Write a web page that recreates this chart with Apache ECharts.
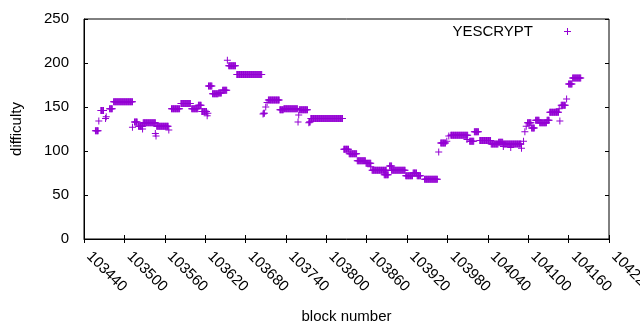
<!DOCTYPE html>
<html>
<head>
<meta charset="utf-8">
<script src="https://cdn.jsdelivr.net/npm/echarts@6/dist/echarts.min.js"></script>
<style>
  html, body { margin: 0; padding: 0; background: #fff; }
  #chart { width: 640px; height: 330px; }
</style>
</head>
<body>
<div id="chart"></div>
<script>
// difficulty runs: first block, last block, difficulty
const runStart = [103457, 103462, 103465, 103472, 103473, 103478, 103484, 103512, 103515, 103521,
  103527, 103528, 103546, 103547, 103548, 103566, 103570, 103584, 103600, 103610,
  103615, 103623, 103624, 103625, 103631, 103640, 103646, 103653, 103655, 103667,
  103706, 103707, 103710, 103712, 103714, 103731, 103737, 103758, 103759, 103760,
  103774, 103775, 103777, 103826, 103834, 103846, 103859, 103866, 103868, 103886,
  103894, 103897, 103918, 103929, 103935, 103946, 103967, 103970, 103979, 103982,
  103985, 104009, 104013, 104020, 104028, 104045, 104056, 104063, 104063, 104074,
  104090, 104093, 104095, 104097, 104099, 104105, 104111, 104117, 104128, 104132,
  104147, 104146, 104149, 104157, 104160, 104166];
const runEnd = [103461, 103462, 103469, 103472, 103473, 103482, 103512, 103512, 103519, 103527,
  103527, 103546, 103546, 103547, 103565, 103566, 103582, 103598, 103609, 103614,
  103622, 103623, 103624, 103630, 103639, 103644, 103652, 103653, 103665, 103704,
  103706, 103708, 103710, 103712, 103730, 103736, 103757, 103758, 103759, 103772,
  103774, 103776, 103824, 103833, 103845, 103858, 103866, 103866, 103889, 103892,
  103897, 103917, 103928, 103934, 103940, 103965, 103967, 103977, 103979, 103982,
  104010, 104009, 104019, 104026, 104044, 104055, 104062, 104089, 104063, 104074,
  104090, 104093, 104095, 104097, 104104, 104109, 104116, 104127, 104131, 104145,
  104147, 104146, 104155, 104157, 104165, 104178];
const runDiff = [123, 134, 146, 137, 139, 148, 156, 127, 133, 128,
  125, 132, 120, 117, 128, 124, 148, 154, 148, 152,
  145, 140, 143, 174, 165, 166, 169, 203, 197, 187,
  142, 143, 150, 155, 158, 147, 148, 133, 141, 147,
  132, 133, 137, 102, 97, 89, 86, 82, 78, 73,
  83, 78, 72, 75, 72, 68, 99, 109, 111, 117,
  118, 113, 111, 122, 112, 108, 110, 108, 105, 104,
  103, 111, 122, 128, 132, 126, 135, 132, 135, 144,
  134, 148, 152, 159, 176, 183];

const xTicks = { min: 103440, max: 104220, step: 60 };
const yTicks = { min: 0, max: 250, step: 50 };

// one point per block inside each run
let points = [];
for (let i = 0; i < runStart.length; i++) {
  for (let b = runStart[i]; b <= runEnd[i]; b++) {
    points.push([b, runDiff[i]]);
  }
}

const plus = "path://M0,3H7V4H0Z M3,0H4V7H3Z";
const font = "Liberation Sans, Arial, sans-serif";

let myChart = echarts.init(document.getElementById("chart"), null, { renderer: "canvas" });
let option = {
  animation: false,
  backgroundColor: "#fff",
  grid: {
    left: 84,
    right: 31,
    top: 19,
    bottom: 91,
    outerBoundsMode: "none",
    containLabel: false,
    show: true,
    borderColor: "#000",
    borderWidth: 1,
  },
  legend: {
    data: [{ name: "YESCRYPT", icon: plus }],
    right: 69,
    top: 24,
    padding: 0,
    align: "right",
    itemWidth: 7,
    itemHeight: 7,
    textStyle: { fontFamily: font, fontSize: 15, color: "#000", padding: [0, 26, 0, 0] },
  },
  xAxis: [
    {
      type: "value",
      min: xTicks.min,
      max: xTicks.max,
      interval: xTicks.step,
      name: "block number",
      nameLocation: "middle",
      nameGap: 70,
      nameTextStyle: { fontFamily: font, fontSize: 15, color: "#000" },
      axisLine: { show: true, lineStyle: { color: "#000" } },
      axisTick: { show: true, inside: true, length: 4, lineStyle: { color: "#000" } },
      splitLine: { show: false },
      axisLabel: {
        rotate: -45,
        margin: 10,
        padding: [0, 0, 0, 7],
        fontFamily: font,
        fontSize: 15,
        color: "#000",
        showMinLabel: true,
        showMaxLabel: true,
        hideOverlap: false,
        formatter: (v) => String(v),
      },
    },
    {
      type: "value",
      position: "top",
      min: xTicks.min,
      max: xTicks.max,
      interval: xTicks.step,
      axisLine: { show: false },
      axisTick: { show: true, inside: true, length: 4, lineStyle: { color: "#000" } },
      axisLabel: { show: false },
      splitLine: { show: false },
    },
  ],
  yAxis: [
    {
      type: "value",
      min: yTicks.min,
      max: yTicks.max,
      interval: yTicks.step,
      name: "difficulty",
      nameLocation: "middle",
      nameGap: 60,
      nameTextStyle: { fontFamily: font, fontSize: 15, color: "#000" },
      axisLine: { show: true, lineStyle: { color: "#000" } },
      axisTick: { show: true, inside: true, length: 4, lineStyle: { color: "#000" } },
      splitLine: { show: false },
      axisLabel: { margin: 15, fontFamily: font, fontSize: 15, color: "#000" },
    },
    {
      type: "value",
      position: "right",
      min: yTicks.min,
      max: yTicks.max,
      interval: yTicks.step,
      axisLine: { show: false },
      axisTick: { show: true, inside: true, length: 4, lineStyle: { color: "#000" } },
      axisLabel: { show: false },
      splitLine: { show: false },
    },
  ],
  series: [
    {
      name: "YESCRYPT",
      type: "scatter",
      symbol: plus,
      symbolSize: 7,
      itemStyle: { color: "#9400d3", opacity: 1 },
      data: points,
    },
  ],
};
myChart.setOption(option);
</script>
</body>
</html>
